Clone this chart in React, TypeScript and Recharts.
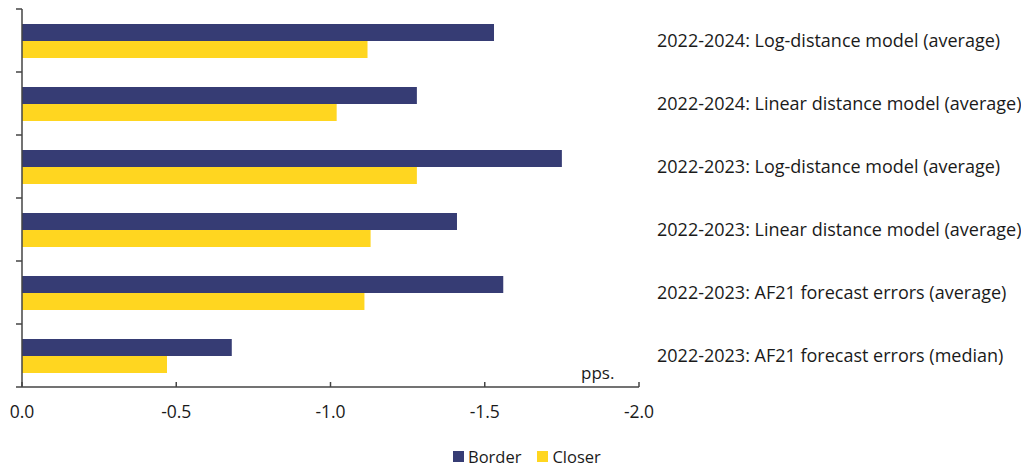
import { Bar, BarChart, Legend, XAxis, YAxis } from "recharts"

const categories = [
  "2022-2024: Log-distance model (average)",
  "2022-2024: Linear distance model (average)",
  "2022-2023: Log-distance model (average)",
  "2022-2023: Linear distance model (average)",
  "2022-2023: AF21 forecast errors (average)",
  "2022-2023: AF21 forecast errors (median)",
]
const border = [-1.53, -1.28, -1.75, -1.41, -1.56, -0.68]
const closer = [-1.12, -1.02, -1.28, -1.13, -1.11, -0.47]
const xTicks = [0, -0.5, -1, -1.5, -2]

const data = categories.map((name, i) => ({ name, border: border[i], closer: closer[i] }))

const NAVY = "#363c74"
const YELLOW = "#ffd620"
const AXIS = "#444444"
const FONT = "'Open Sans', sans-serif"

// category ticks sit on the band edges, not the centres
function EdgeTick(props: any) {
  const { x, y, payload, index } = props
  const half = payload?.offset ?? 31.4
  const last = index === categories.length - 1
  return (
    <g>
      <line x1={x - 6} x2={x} y1={y - half} y2={y - half} stroke={AXIS} strokeWidth={1.5} />
      {last && <line x1={x - 6} x2={x} y1={y + half} y2={y + half} stroke={AXIS} strokeWidth={1.5} />}
    </g>
  )
}

function LegendContent() {
  const items = [
    { label: "Border", color: NAVY },
    { label: "Closer", color: YELLOW },
  ]
  return (
    <div style={{ display: "flex", alignItems: "center", fontFamily: FONT, fontSize: 16.5, color: "#1a1a1a" }}>
      {items.map((it) => (
        <div key={it.label} style={{ display: "flex", alignItems: "center", marginRight: 16 }}>
          <span style={{ width: 11, height: 11, background: it.color, display: "inline-block", marginRight: 4 }} />
          <span>{it.label}</span>
        </div>
      ))}
    </div>
  )
}

export default function App() {
  return (
    <div style={{ position: "absolute", left: 0, top: 0, width: 1021, height: 469 }}>
      <BarChart
        width={1021}
        height={469}
        data={data}
        layout="vertical"
        margin={{ top: 9, right: 0, bottom: 11, left: 0 }}
        barSize={17}
        barGap={0}
      >
        <XAxis
          type="number"
          domain={[-2, 0]}
          reversed
          ticks={xTicks}
          tickFormatter={(v: number) => v.toFixed(1)}
          tick={{ fill: "#1a1a1a", fontSize: 17.5, fontFamily: FONT }}
          stroke={AXIS}
          strokeWidth={1.5}
          tickSize={-5}
          tickMargin={24}
          height={48}
        />
        <YAxis
          yAxisId="left"
          type="category"
          dataKey="name"
          width={22}
          stroke={AXIS}
          strokeWidth={1.5}
          tickLine={false}
          tickSize={0}
          tickMargin={0}
          tick={<EdgeTick />}
        />
        <YAxis
          yAxisId="right"
          type="category"
          dataKey="name"
          orientation="right"
          width={382}
          axisLine={false}
          tickLine={false}
          tickMargin={12}
          tick={{ fill: "#1a1a1a", fontSize: 18, fontFamily: FONT, textAnchor: "start" }}
        />
        <Legend
          verticalAlign="bottom"
          content={<LegendContent />}
          wrapperStyle={{ left: 453, bottom: 1, width: "auto" }}
        />
        <Bar yAxisId="left" dataKey="border" name="Border" fill={NAVY} isAnimationActive={false} />
        <Bar yAxisId="left" dataKey="closer" name="Closer" fill={YELLOW} isAnimationActive={false} />
      </BarChart>
      <div
        style={{
          position: "absolute",
          left: 581,
          top: 361,
          fontFamily: FONT,
          fontSize: 17,
          color: "#1a1a1a",
        }}
      >
        pps.
      </div>
    </div>
  )
}
